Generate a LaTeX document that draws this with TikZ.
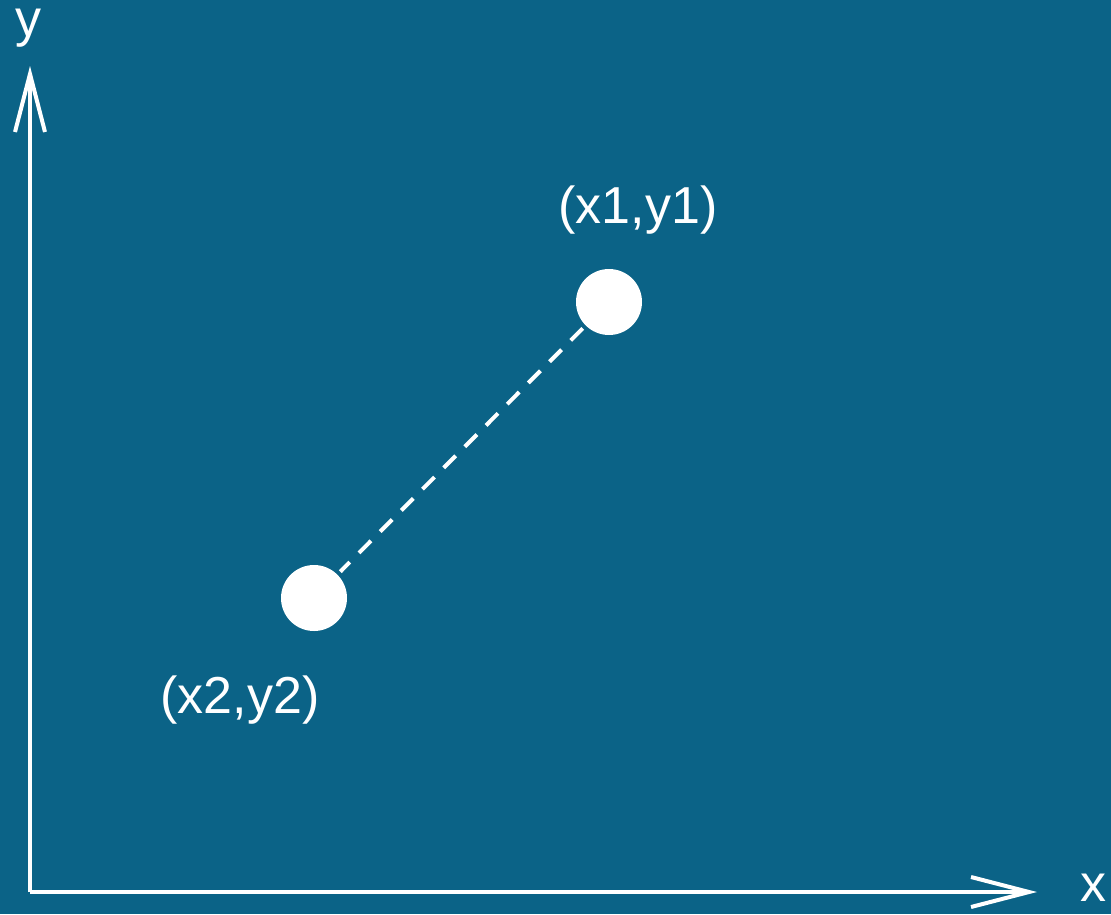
\documentclass[tikz,border=0pt]{standalone}
\usepackage{fontspec}
\setmainfont{Liberation Sans}
\usetikzlibrary{arrows.meta}
\definecolor{bgblue}{RGB}{11,99,135}
\begin{document}
\begin{tikzpicture}[x=1pt,y=-1pt,
  axis/.style={draw=white,line width=4pt,-{Straight Barb[length=58pt,width=30pt,line width=4pt]}},
  dot/.style={circle,fill=white,minimum size=66pt,inner sep=0pt},
  lbl/.style={text=white,font=\fontsize{52}{60}\selectfont,inner sep=0pt},
  guide/.style={draw=white,line width=4pt,dash pattern=on 17pt off 13pt,shorten <=4pt,shorten >=4pt}]
\fill[bgblue] (0,0) rectangle (1111,914);
\useasboundingbox (0,0) rectangle (1111,914);
\coordinate (o) at (30,892);
\coordinate (ytip) at (30,66);
\coordinate (xtip) at (1037,892);
\draw[axis] (o) -- (ytip);
\draw[axis] (o) -- (xtip);
\node[lbl] (ylab) at (28,28) {y};
\node[lbl] (xlab) at (1093,888) {x};
\node[dot] (p1) at (609,302) {};
\node[dot] (p2) at (314,598) {};
\draw[guide] (p1) -- (p2);
\node[lbl] (l1) at (638,210) {(x1,y1)};
\node[lbl] (l2) at (240,700) {(x2,y2)};
\end{tikzpicture}
\end{document}
